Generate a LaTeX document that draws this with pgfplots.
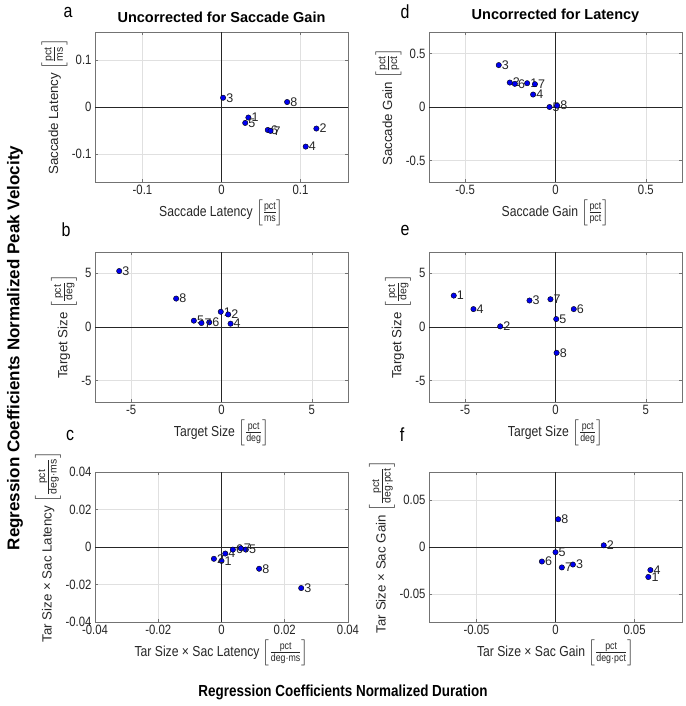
\documentclass[border=0pt]{standalone}
\usepackage{amsmath}
\usepackage{fontspec}
\setmainfont[FakeStretch=0.84]{Liberation Sans}
\newfontfamily\rotfont{Liberation Sans}
\usepackage{pgfplots}
\pgfplotsset{compat=1.18}
\newcommand{\fs}[1]{\fontsize{#1}{#1}\selectfont}
\newcommand{\unit}[2]{$\left[\frac{\text{\fs{10.5}#1}}{\text{\fs{10.5}#2}}\right]$}
\definecolor{txt}{HTML}{262626}
\definecolor{dotblue}{HTML}{0000F0}
\pgfplotsset{
  panel/.style={
    scale only axis, width=253pt, height=150pt, anchor=south west,
    axis line style={draw=black!55, line width=0.7pt},
    grid=major, major grid style={draw=black!12, line width=0.6pt},
    tick align=inside, major tick length=3pt,
    tick style={draw=black!55, line width=0.6pt},
    ticklabel style={font=\fs{13.5}, text=txt},
    /pgf/number format/assume math mode=true,
    scaled ticks=false,
    /pgf/number format/fixed, /pgf/number format/precision=2,
    extra x ticks={0}, extra y ticks={0},
    extra x tick labels={}, extra y tick labels={},
    extra tick style={major grid style={draw=black!85, line width=0.7pt}, major tick length=0pt},
    xlabel style={font=\fs{14.5}, text=txt, inner sep=1pt},
    ylabel style={font=\rotfont\fs{13.3}, text=txt, inner sep=1pt},
    title style={font=\rotfont\bfseries\fs{14.5}, text=black},
    nodes near coords, point meta=explicit symbolic,
    nodes near coords align=right,
    every node near coord/.append style={inner sep=0pt, xshift=3pt, font=\rotfont\fs{12.5}, text=txt},
  },
  dots/.style={only marks, mark=*, mark size=2.7pt, mark options={draw=none, fill=dotblue}},
}
\begin{document}
\begin{tikzpicture}[x=1pt,y=1pt]
\path[use as bounding box] (0,0) rectangle (685,706);

% Panel a
\begin{axis}[panel, at={(95pt,524pt)},
  xmin=-0.16, xmax=0.16, ymin=-0.16, ymax=0.16,
  xtick={-0.1,0,0.1}, ytick={-0.1,0,0.1},
  title={Uncorrected for Saccade Gain},
  xlabel={Saccade Latency \unit{pct}{ms}},
  ylabel={Saccade Latency \unit{pct}{ms}}]
\addplot[dots] table[x=x, y=y, meta=l] {
x y l
0.034 -0.0225 1
0.120 -0.046 2
0.002 0.0197 3
0.1065 -0.0845 4
0.030 -0.034 5
0.0585 -0.049 6
0.062 -0.051 7
0.083 0.0106 8
};
\end{axis}

% Panel d
\begin{axis}[panel, at={(429pt,524pt)},
  xmin=-0.7, xmax=0.7, ymin=-0.7, ymax=0.7,
  xtick={-0.5,0,0.5}, ytick={-0.5,0,0.5},
  title={Uncorrected for Latency},
  xlabel={Saccade Gain \unit{pct}{pct}},
  ylabel={Saccade Gain \unit{pct}{pct}}]
\addplot[dots] table[x=x, y=y, meta=l] {
x y l
-0.157 0.222 1
-0.253 0.228 2
-0.314 0.391 3
-0.124 0.116 4
-0.033 0.0 5
-0.225 0.216 6
-0.114 0.213 7
0.009 0.0125 8
};
\end{axis}

% Panel b
\begin{axis}[panel, at={(95pt,304pt)},
  xmin=-7, xmax=7, ymin=-7, ymax=7,
  xtick={-5,0,5}, ytick={-5,0,5},
  xlabel={Target Size \unit{pct}{deg}},
  ylabel={Target Size \unit{pct}{deg}}]
\addplot[dots] table[x=x, y=y, meta=l] {
x y l
-0.04 1.42 1
0.37 1.17 2
-5.66 5.22 3
0.50 0.31 4
-1.53 0.59 5
-0.68 0.43 6
-1.11 0.37 7
-2.51 2.65 8
};
\end{axis}

% Panel e
\begin{axis}[panel, at={(429pt,304pt)},
  xmin=-7, xmax=7, ymin=-7, ymax=7,
  xtick={-5,0,5}, ytick={-5,0,5},
  xlabel={Target Size \unit{pct}{deg}},
  ylabel={Target Size \unit{pct}{deg}}]
\addplot[dots] table[x=x, y=y, meta=l] {
x y l
-5.63 2.93 1
-3.06 0.06 2
-1.44 2.47 3
-4.54 1.67 4
0.04 0.74 5
1.01 1.67 6
-0.28 2.59 7
0.06 -2.41 8
};
\end{axis}

% Panel c
\begin{axis}[panel, at={(95pt,84pt)},
  xmin=-0.04, xmax=0.04, ymin=-0.04, ymax=0.04,
  xtick={-0.04,-0.02,0,0.02,0.04}, ytick={-0.04,-0.02,0,0.02,0.04},
  xlabel={Tar Size × Sac Latency \unit{pct}{deg$\cdot$ms}},
  ylabel={Tar Size × Sac Latency \unit{pct}{deg$\cdot$ms}}]
\addplot[dots] table[x=x, y=y, meta=l] {
x y l
0.0 -0.0074 1
-0.0024 -0.0063 2
0.0252 -0.0219 3
0.0012 -0.0035 4
0.0077 -0.0014 5
0.0036 -0.0014 6
0.0061 -0.0007 7
0.0119 -0.0116 8
};
\end{axis}

% Panel f
\begin{axis}[panel, at={(429pt,84pt)},
  xmin=-0.08, xmax=0.08, ymin=-0.08, ymax=0.08,
  xtick={-0.05,0,0.05}, ytick={-0.05,0,0.05},
  xlabel={Tar Size × Sac Gain \unit{pct}{deg$\cdot$pct}},
  ylabel={Tar Size × Sac Gain \unit{pct}{deg$\cdot$pct}}]
\addplot[dots] table[x=x, y=y, meta=l] {
x y l
0.0587 -0.032 1
0.0305 0.0018 2
0.011 -0.0187 3
0.060 -0.0246 4
0.0 -0.0056 5
-0.0086 -0.0155 6
0.004 -0.0218 7
0.0017 0.0296 8
};
\end{axis}

% panel letters
\node[font=\fs{19}, text=black] at (68,694) {a};
\node[font=\fs{19}, text=black] at (405,694) {d};
\node[font=\fs{19}, text=black] at (66,476) {b};
\node[font=\fs{19}, text=black] at (405,476) {e};
\node[font=\fs{19}, text=black] at (70,271) {c};
\node[font=\fs{19}, text=black] at (402,271) {f};

% global labels
\node[rotate=90, font=\rotfont\bfseries\fs{17}, text=black] at (15,358) {Regression Coefficients Normalized Peak Velocity};
\node[font=\bfseries\fs{16}, text=black] at (343,14) {Regression Coefficients Normalized Duration};
\end{tikzpicture}
\end{document}
